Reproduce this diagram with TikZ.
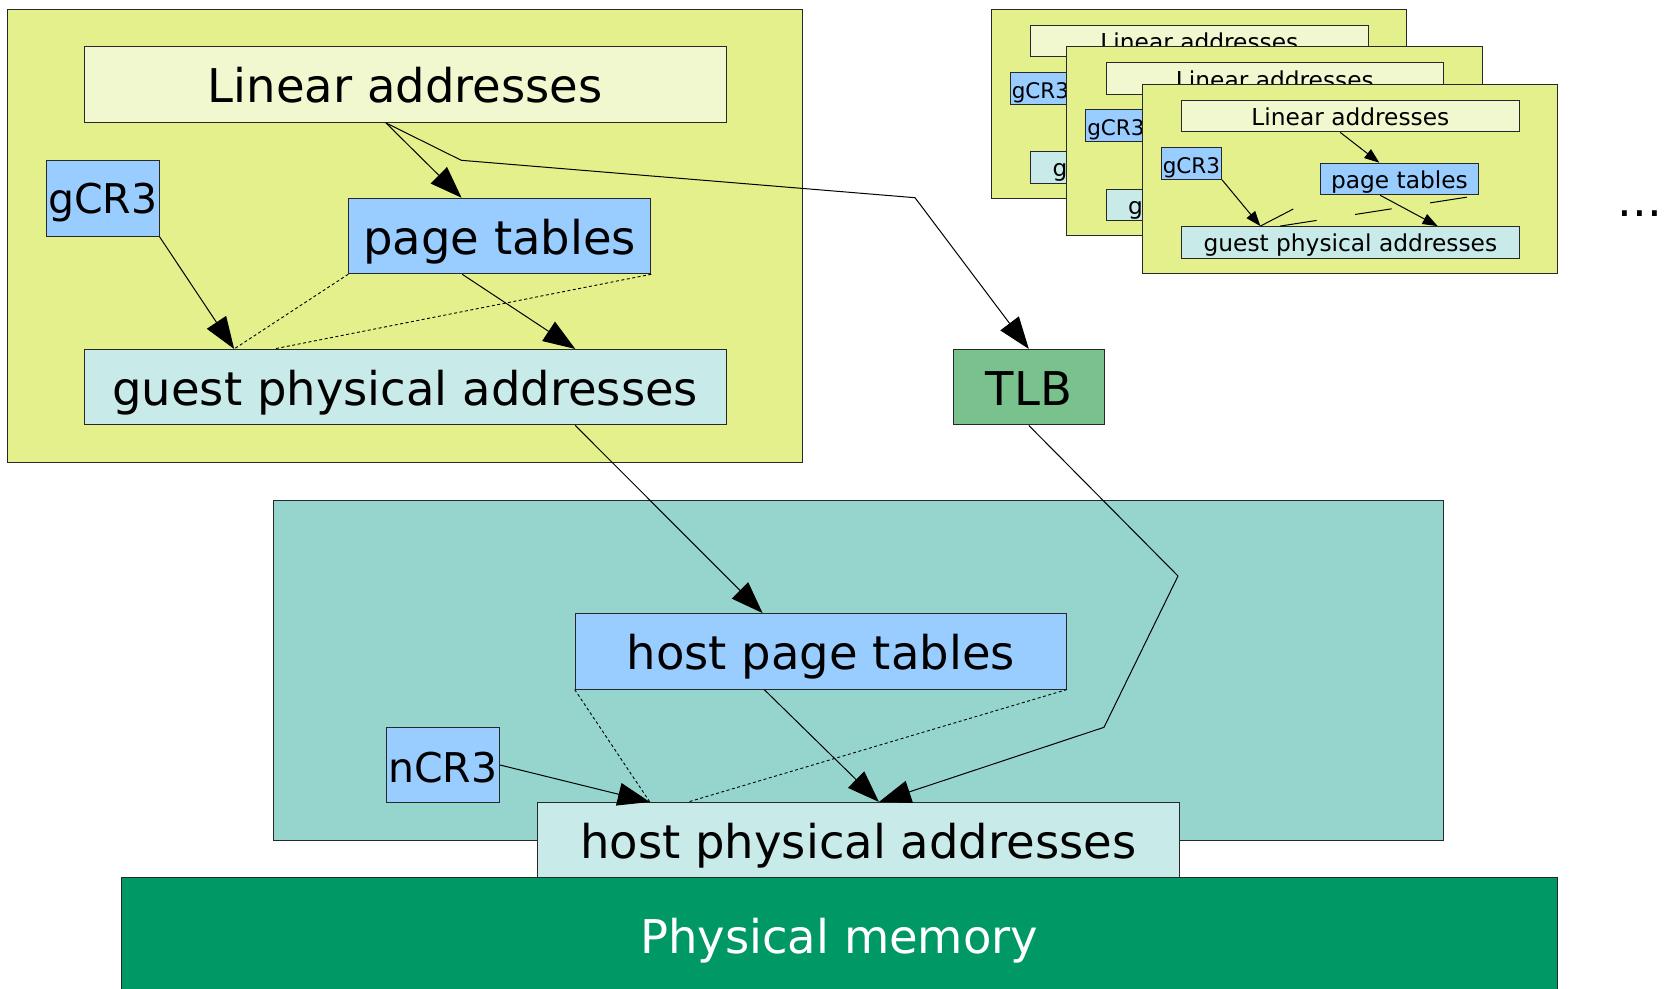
\documentclass[tikz,border=0pt]{standalone}
\usepackage{fontspec}
\setmainfont{DejaVu Sans}
\usetikzlibrary{arrows.meta,calc}

\definecolor{guestbg}{RGB}{227,240,140}
\definecolor{linbg}{RGB}{241,248,208}
\definecolor{tablebg}{RGB}{153,204,255}
\definecolor{addrbg}{RGB}{200,234,232}
\definecolor{hostbg}{RGB}{150,213,206}
\definecolor{tlbbg}{RGB}{121,193,141}
\definecolor{membg}{RGB}{0,153,102}
\definecolor{edge}{RGB}{40,40,40}

\newcommand\bigtext{\fontsize{46.5}{56}\selectfont}
\newcommand\crtext{\fontsize{41}{49}\selectfont}
\newcommand\smalltext{\fontsize{23.3}{28}\selectfont}
\newcommand\smallcrtext{\fontsize{21.5}{26}\selectfont}

\tikzset{
  panel/.style={draw=edge, line width=1pt, inner sep=0pt, rectangle},
  bigbox/.style={panel, minimum height=75.5pt, font=\bigtext,
    text height=36.6pt, text depth=0pt},
  crbox/.style={bigbox, font=\crtext},
  smallbox/.style={panel, minimum height=31.5pt, font=\smalltext,
    text height=19pt, text depth=0pt},
  smallcrbox/.style={smallbox, font=\smallcrtext, text height=20pt},
  arr/.style={draw=black, line width=1pt, -{Triangle[length=32pt,width=23pt]}},
  smallarr/.style={draw=black, line width=1pt, -{Triangle[length=15pt,width=11pt]}},
  hint/.style={draw=black, line width=0.9pt, dash pattern=on 3pt off 2.5pt},
  smallhint/.style={draw=black, line width=1pt, dash pattern=on 37pt off 39pt},
  % a small copy of the guest address space
  miniguest/.pic={
    \node[panel, fill=guestbg, minimum width=415.5pt, minimum height=188.7pt]
      (-frame) at (207.75,94.35) {};
    \node[smallbox, fill=linbg, minimum width=337.3pt] (-lin) at (208.35,31.85) {Linear addresses};
    \node[smallcrbox, fill=tablebg, minimum width=60.1pt, minimum height=32pt] (-gcr) at (49.45,79) {gCR3};
    \node[smallbox, fill=tablebg, minimum width=158.5pt] (-pt) at (257.45,94.7) {page tables};
    \node[smallbox, fill=addrbg, minimum width=337.3pt] (-gpa) at (208.35,158.05) {guest physical addresses};
    \draw[smallarr] ($(-lin.south west)!0.47!(-lin.south east)$) -- ($(-pt.north west)!0.374!(-pt.north east)$);
    \draw[smallarr] (-gcr.south east) -- ($(-gpa.north west)!0.234!(-gpa.north east)$);
    \draw[smallarr] ($(-pt.south west)!0.379!(-pt.south east)$) -- ($(-gpa.north west)!0.758!(-gpa.north east)$);
    \draw[smallhint] ($(-gpa.north west)!0.234!(-gpa.north east)$) -- (-pt.south west);
    \draw[smallhint] ($(-gpa.north west)!0.292!(-gpa.north east)$) -- (-pt.south east);
  }
}

\begin{document}
\begin{tikzpicture}[x=1pt, y=-1pt]
\useasboundingbox (0,0) rectangle (1669,988);

% guest address space
\node[panel, fill=guestbg, minimum width=794.3pt, minimum height=453.3pt] (guest) at (404.85,235.65) {};
\node[bigbox, fill=linbg, minimum width=642pt] (lin) at (405.2,84.65) {Linear addresses};
\node[crbox, fill=tablebg, minimum width=112.5pt, text height=30pt] (gcr) at (102.75,198.4) {gCR3};
\node[bigbox, fill=tablebg, minimum width=302pt] (pt) at (499.75,236) {page tables};
\node[bigbox, fill=addrbg, minimum width=642pt] (gpa) at (405.2,387.2) {guest physical addresses};

% TLB
\node[bigbox, fill=tlbbg, minimum width=151pt] (tlb) at (1028.8,387.2) {TLB};

% host address space
\node[panel, fill=hostbg, minimum width=1170.6pt, minimum height=340.4pt] (host) at (858.3,670.5) {};
\node[bigbox, fill=tablebg, minimum width=491.2pt] (hpt) at (820.8,651.3) {host page tables};
\node[crbox, fill=tablebg, minimum width=113.3pt, text height=34.6pt] (ncr) at (442.85,765) {nCR3};
\node[bigbox, fill=addrbg, minimum width=642.7pt] (hpa) at (858.35,840.2) {host physical addresses};

% physical memory
\node[bigbox, fill=membg, minimum width=1436.5pt, minimum height=114.3pt,
  text=white] (mem) at (839.25,934.85) {Physical memory};

% further guests
\pic (g1) at (991,9.3) {miniguest};
\pic (g2) at (1066.5,46.7) {miniguest};
\pic (g3) at (1142,84.3) {miniguest};
\node[font=\bigtext, anchor=base, inner sep=0pt] (more) at (1640,216.5) {...};

% guest translation
\coordinate (linout) at ($(lin.south west)!0.47!(lin.south east)$);
\draw[arr] (linout) -- ($(pt.north west)!0.374!(pt.north east)$);
\draw[arr] (gcr.south east) -- ($(gpa.north west)!0.234!(gpa.north east)$);
\draw[arr] ($(pt.south west)!0.376!(pt.south east)$) -- ($(gpa.north west)!0.7645!(gpa.north east)$);
\draw[hint] (pt.south west) -- ($(gpa.north west)!0.234!(gpa.north east)$);
\draw[hint] (pt.south east) -- ($(gpa.north west)!0.2957!(gpa.north east)$);

% TLB path
\coordinate (tlbbendA) at (461.3,160.3);
\coordinate (tlbbendB) at (915,197.7);
\draw[arr] (linout) -- (tlbbendA) -- (tlbbendB) -- (tlb.north);
\coordinate (tlbbendC) at (1178,576);
\coordinate (tlbbendD) at (1104,727.3);
\draw[arr] (tlb.south) -- (tlbbendC) -- (tlbbendD) -- ($(hpa.north west)!0.532!(hpa.north east)$);

% host translation
\draw[arr] ($(gpa.south west)!0.7645!(gpa.south east)$) -- ($(hpt.north west)!0.3817!(hpt.north east)$);
\draw[arr] ($(hpt.south west)!0.385!(hpt.south east)$) -- ($(hpa.north west)!0.532!(hpa.north east)$);
\draw[arr] (ncr.east) -- ($(hpa.north west)!0.176!(hpa.north east)$);
\draw[hint] (hpt.south west) -- ($(hpa.north west)!0.176!(hpa.north east)$);
\draw[hint] (hpt.south east) -- ($(hpa.north west)!0.2357!(hpa.north east)$);
\end{tikzpicture}
\end{document}
